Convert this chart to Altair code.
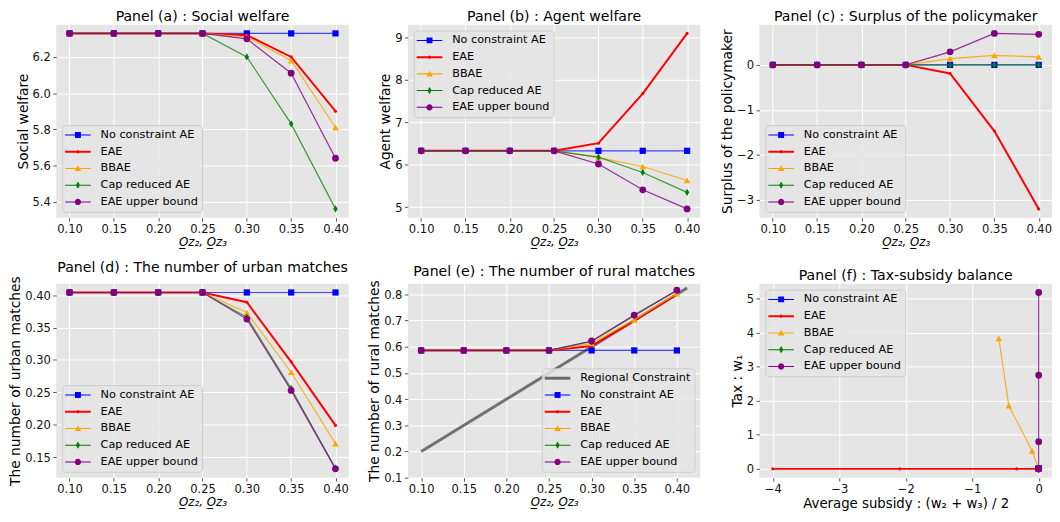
import altair as alt
import pandas as pd

x_vals = [0.10, 0.15, 0.20, 0.25, 0.30, 0.35, 0.40]
series_names = ["No constraint AE", "EAE", "BBAE", "Cap reduced AE", "EAE upper bound"]
series_colors = ["#0000FF", "#FF0000", "#FFA500", "#008000", "#800080"]

# Panel (a) Social welfare
a_no = [6.33, 6.33, 6.33, 6.33, 6.33, 6.33, 6.33]
a_eae = [6.33, 6.33, 6.33, 6.33, 6.32, 6.20, 5.90]
a_bbae = [6.33, 6.33, 6.33, 6.33, 6.31, 6.18, 5.81]
a_cap = [6.33, 6.33, 6.33, 6.33, 6.20, 5.83, 5.36]
a_ub = [6.33, 6.33, 6.33, 6.33, 6.30, 6.11, 5.64]

# Panel (b) Agent welfare
b_no = [6.33, 6.33, 6.33, 6.33, 6.33, 6.33, 6.33]
b_eae = [6.33, 6.33, 6.33, 6.33, 6.51, 7.68, 9.10]
b_bbae = [6.33, 6.33, 6.33, 6.33, 6.17, 5.96, 5.63]
b_cap = [6.33, 6.33, 6.33, 6.33, 6.18, 5.82, 5.35]
b_ub = [6.33, 6.33, 6.33, 6.33, 6.02, 5.41, 4.96]

# Panel (c) Surplus of the policymaker
c_no = [0.0, 0.0, 0.0, 0.0, 0.0, 0.0, 0.0]
c_eae = [0.0, 0.0, 0.0, 0.0, -0.19, -1.47, -3.20]
c_bbae = [0.0, 0.0, 0.0, 0.0, 0.14, 0.21, 0.18]
c_cap = [0.0, 0.0, 0.0, 0.0, 0.0, 0.0, 0.0]
c_ub = [0.0, 0.0, 0.0, 0.0, 0.29, 0.70, 0.68]

# Panel (d) Number of urban matches
d_no = [0.404, 0.404, 0.404, 0.404, 0.404, 0.404, 0.404]
d_eae = [0.404, 0.404, 0.404, 0.404, 0.389, 0.297, 0.199]
d_bbae = [0.404, 0.404, 0.404, 0.404, 0.373, 0.281, 0.171]
d_cap = [0.404, 0.404, 0.404, 0.404, 0.366, 0.256, 0.133]
d_ub = [0.404, 0.404, 0.404, 0.404, 0.363, 0.253, 0.132]

# Panel (e) Number of rural matches
e_con_x = [0.10, 0.412]
e_con_y = [0.20, 0.824]
e_no = [0.586, 0.586, 0.586, 0.586, 0.586, 0.586, 0.586]
e_eae = [0.586, 0.586, 0.586, 0.586, 0.603, 0.700, 0.800]
e_bbae = [0.586, 0.586, 0.586, 0.586, 0.613, 0.703, 0.803]
e_cap = [0.586, 0.586, 0.586, 0.586, 0.620, 0.718, 0.815]
e_ub = [0.586, 0.586, 0.586, 0.586, 0.622, 0.721, 0.816]

# Panel (f) Tax-subsidy balance
f_no_x = [0.0, 0.0, 0.0, 0.0, 0.0, 0.0, 0.0]
f_no_y = [0.0, 0.0, 0.0, 0.0, 0.0, 0.0, 0.0]
f_eae_x = [0.0, 0.0, 0.0, 0.0, -0.33, -2.09, -4.00]
f_eae_y = [0.0, 0.0, 0.0, 0.0, 0.0, 0.0, 0.0]
f_bbae_x = [0.0, 0.0, 0.0, 0.0, -0.10, -0.45, -0.60]
f_bbae_y = [0.0, 0.0, 0.0, 0.0, 0.53, 1.86, 3.83]
f_cap_x = [0.0, 0.0, 0.0, 0.0, 0.0, 0.0, 0.0]
f_cap_y = [0.0, 0.0, 0.0, 0.0, 0.0, 0.0, 0.0]
f_ub_x = [0.0, 0.0, 0.0, 0.0, 0.0, 0.0, 0.0]
f_ub_y = [0.0, 0.0, 0.0, 0.0, 0.80, 2.75, 5.18]

FONT = "DejaVu Sans"
W = 297
H1 = 196
H2 = 197

line_w = [1.2, 2.0, 1.2, 1.2, 1.2]
line_op = [0.7, 1.0, 0.85, 0.75, 0.8]
DIAMOND = "M0,-1L0.6,0L0,1L-0.6,0Z"
pt_shape = ["square", "circle", "triangle-up", DIAMOND, "circle"]
pt_size = [40, 10, 45, 55, 48]

L = 2.17


def rect(t):
    return f"M-{L},-{t}H{L}V{t}H-{L}Z"


def circ(r):
    return f"M-{r},0A{r},{r},0,1,1,{r},0A{r},{r},0,1,1,-{r},0Z"


leg_paths = [
    rect(0.085) + "M-0.5,-0.5H0.5V0.5H-0.5Z",
    rect(0.17) + circ(0.27),
    rect(0.085) + "M0,-0.55L0.55,0.45L-0.55,0.45Z",
    rect(0.085) + "M0,-0.62L0.36,0L0,0.62L-0.36,0Z",
    rect(0.085) + circ(0.53),
]
con_path = rect(0.25)
con_color = "#6a6a6a"


def make_df(xs_list, ys_list):
    rows = []
    for s, xs, ys in zip(series_names, xs_list, ys_list):
        for i, (xv, yv) in enumerate(zip(xs, ys)):
            rows.append({"series": s, "idx": i, "x": xv, "y": yv})
    return pd.DataFrame(rows)


def pad_dom(vals):
    lo, hi = min(vals), max(vals)
    m = 0.05 * (hi - lo)
    return [lo - m, hi + m]


def panel(title, df, xdom, ydom, xticks, yticks, xfmt, yfmt, xtitle, ytitle,
          orient, height, con_df=None, xt_size=12, xt_style="italic"):
    xenc = alt.X("x:Q", scale=alt.Scale(domain=xdom, nice=False, zero=False),
                 axis=alt.Axis(values=xticks, format=xfmt, title=xtitle,
                               titleFontSize=xt_size, titleFontStyle=xt_style))
    yenc = alt.Y("y:Q", scale=alt.Scale(domain=ydom, nice=False, zero=False),
                 axis=alt.Axis(values=yticks, format=yfmt, title=ytitle))
    layers = []
    dom = list(series_names)
    rng_c = list(series_colors)
    rng_s = list(leg_paths)
    if con_df is not None:
        layers.append(alt.Chart(con_df).mark_line(color=con_color, strokeWidth=3, opacity=0.95)
                      .encode(x=xenc, y=yenc))
        dom = ["Regional Constraint"] + dom
        rng_c = [con_color] + rng_c
        rng_s = [con_path] + rng_s
    base = alt.Chart(df)
    for i, s in enumerate(series_names):
        sub = base.transform_filter(alt.datum.series == s)
        layers.append(sub.mark_line(color=series_colors[i], strokeWidth=line_w[i], opacity=line_op[i])
                      .encode(x=xenc, y=yenc, order="idx:Q"))
        layers.append(sub.mark_point(filled=True, shape=pt_shape[i], size=pt_size[i],
                                     color=series_colors[i], opacity=1, strokeWidth=0)
                      .encode(x=xenc, y=yenc))
    leg = alt.Legend(title=None, orient=orient, offset=6, symbolSize=144, symbolStrokeWidth=0,
                     symbolOffset=6, labelOffset=17, rowPadding=5, padding=4,
                     fillColor="rgba(229,229,229,0.85)", strokeColor="#CCCCCC", cornerRadius=3,
                     labelFontSize=11.4, labelFont=FONT, labelColor="#000000", symbolOpacity=1,
                     labelLimit=400)
    legend_layer = base.transform_filter("false").mark_point(filled=True).encode(
        x=xenc, y=yenc,
        color=alt.Color("series:N", scale=alt.Scale(domain=dom, range=rng_c), legend=leg),
        shape=alt.Shape("series:N", scale=alt.Scale(domain=dom, range=rng_s), legend=leg),
    )
    layers.append(legend_layer)
    ttl = alt.TitleParams(text=title, offset=0, anchor="middle", frame="group",
                          font=FONT, fontSize=14.3, fontWeight="normal", color="#000000")
    return alt.layer(*layers).properties(width=W, height=height, title=ttl)


xt = "O\u0332z\u2082, O\u0332z\u2083"
xfmt = ".2f"

dfa = make_df([x_vals] * 5, [a_no, a_eae, a_bbae, a_cap, a_ub])
dfb = make_df([x_vals] * 5, [b_no, b_eae, b_bbae, b_cap, b_ub])
dfc = make_df([x_vals] * 5, [c_no, c_eae, c_bbae, c_cap, c_ub])
dfd = make_df([x_vals] * 5, [d_no, d_eae, d_bbae, d_cap, d_ub])
dfe = make_df([x_vals] * 5, [e_no, e_eae, e_bbae, e_cap, e_ub])
dff = make_df([f_no_x, f_eae_x, f_bbae_x, f_cap_x, f_ub_x], [f_no_y, f_eae_y, f_bbae_y, f_cap_y, f_ub_y])
con_df = pd.DataFrame({"x": e_con_x, "y": e_con_y})

xd = pad_dom(x_vals)

pa = panel("Panel (a) : Social welfare", dfa, xd, pad_dom(a_no + a_eae + a_bbae + a_cap + a_ub),
           x_vals, [5.4, 5.6, 5.8, 6.0, 6.2], xfmt, ".1f", xt, "Social welfare", "bottom-left", H1)
pb = panel("Panel (b) : Agent welfare", dfb, xd, pad_dom(b_no + b_eae + b_bbae + b_cap + b_ub),
           x_vals, [5, 6, 7, 8, 9], xfmt, "d", xt, "Agent welfare", "top-left", H1)
pc = panel("Panel (c) : Surplus of the policymaker", dfc, xd, pad_dom(c_no + c_eae + c_bbae + c_cap + c_ub),
           x_vals, [-3, -2, -1, 0], xfmt, "d", xt, "Surplus of the policymaker", "bottom-left", H1)
pd_ = panel("Panel (d) : The number of urban matches", dfd, xd, pad_dom(d_no + d_eae + d_bbae + d_cap + d_ub),
            x_vals, [0.15, 0.20, 0.25, 0.30, 0.35, 0.40], xfmt, ".2f", xt, "The number of urban matches",
            "bottom-left", H2)
pe = panel("Panel (e) : The number of rural matches", dfe, pad_dom(e_con_x + x_vals), [0.1, 0.841],
           x_vals, [0.1, 0.2, 0.3, 0.4, 0.5, 0.6, 0.7, 0.8], xfmt, ".1f", xt, "The number of rural matches",
           "bottom-right", H2, con_df=con_df)
pf = panel("Panel (f) : Tax-subsidy balance", dff,
           pad_dom(f_no_x + f_eae_x + f_bbae_x + f_cap_x + f_ub_x),
           pad_dom(f_no_y + f_eae_y + f_bbae_y + f_cap_y + f_ub_y),
           [-4, -3, -2, -1, 0], [0, 1, 2, 3, 4, 5], "d", "d",
           "Average subsidy : (w\u2082 + w\u2083) / 2", "Tax : w\u2081", "top-left", H2,
           xt_size=13.5, xt_style="normal")

chart = alt.concat(pa, pb, pc, pd_, pe, pf, columns=3, spacing={"row": 67, "column": 60},
                   bounds="flush").resolve_scale(
    color="independent", shape="independent", x="independent", y="independent"
).resolve_legend(color="independent", shape="independent").properties(
    padding={"left": 0, "top": -2, "right": 0, "bottom": 0}
).configure(font=FONT).configure_view(
    fill="#E5E5E5", stroke=None
).configure_axis(
    grid=True, gridColor="#FFFFFF", gridWidth=1, domain=False,
    tickColor="#555555", tickSize=3.5, tickWidth=1,
    labelFont=FONT, labelFontSize=11.7, labelColor="#111111", labelPadding=2.5,
    titleFont=FONT, titleFontSize=14, titleFontWeight="normal", titleColor="#000000", titlePadding=2,
).configure_title(
    font=FONT, fontSize=14.3, fontWeight="normal", color="#000000", anchor="middle", frame="group", offset=0
)

chart.save("out.html", embed_options={"renderer": "svg", "actions": False})
